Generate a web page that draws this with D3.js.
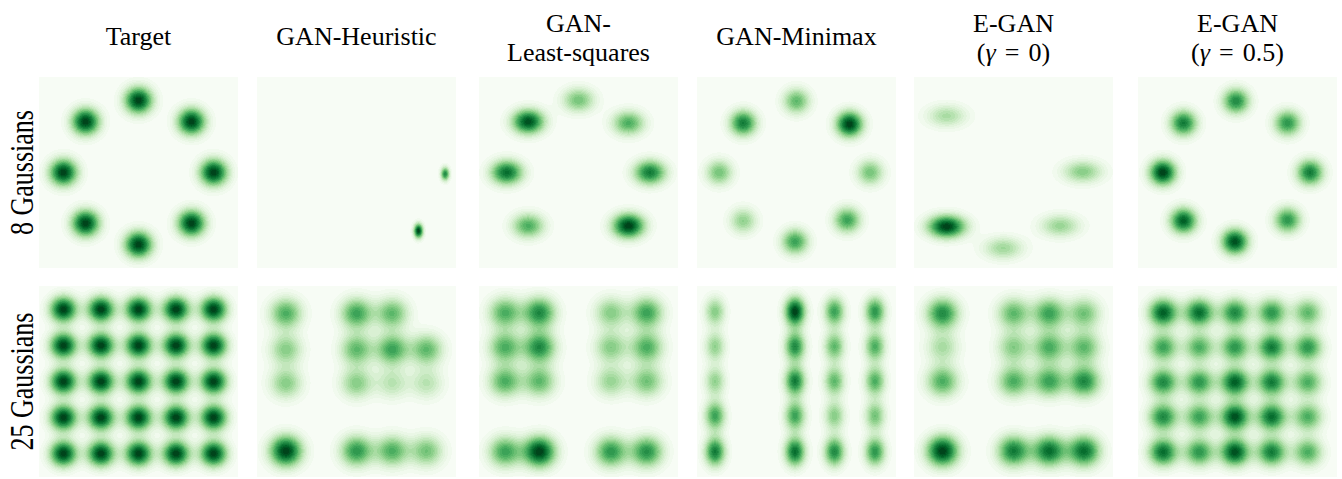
<!DOCTYPE html>
<html>
<head>
<meta charset="utf-8">
<script src="https://cdn.jsdelivr.net/npm/d3@7"></script>
<style>
  body { margin: 0; background: #fff; }
  svg { display: block; }
</style>
</head>
<body>
<svg id="chart" width="1342" height="479"></svg>
<script>
// Column titles (one entry per line) and row labels
const methods = [
  ["Target"],
  ["GAN-Heuristic"],
  ["GAN-", "Least-squares"],
  ["GAN-Minimax"],
  ["E-GAN", "(γ = 0)"],
  ["E-GAN", "(γ = 0.5)"]
];
const datasets = ["8 Gaussians", "25 Gaussians"];

// ---- 8 Gaussians: modes as [x, y, peak density, spread x, spread y]
const ring8Target = [
  [0, 2, 1, .26, .26], [1.41, 1.41, 1, .26, .26], [2, 0, 1, .26, .26], [1.41, -1.41, 1, .26, .26],
  [0, -2, 1, .26, .26], [-1.41, -1.41, 1, .26, .26], [-2, 0, 1, .26, .26], [-1.41, 1.41, 1, .26, .26]
];
const ring8Heuristic = [
  [2.36, -0.04, 0.75, .08, .13],
  [1.65, -1.62, 1.0, .085, .14]
];
const ring8LeastSquares = [
  [0, 2.01, 0.5, .3, .24], [-1.34, 1.41, 0.95, .3, .24], [1.33, 1.37, 0.6, .3, .24],
  [-1.91, 0, 0.85, .3, .24], [1.9, 0, 0.8, .3, .24],
  [-1.34, -1.48, 0.6, .3, .24], [1.33, -1.48, 1.0, .3, .24]
];
const ring8Minimax = [
  [0, 1.98, 0.55, .25, .25], [-1.42, 1.37, 0.8, .25, .25], [1.41, 1.34, 1.0, .25, .25],
  [-2.06, 0, 0.5, .25, .25], [1.96, 0, 0.5, .25, .25],
  [-1.42, -1.34, 0.42, .25, .25], [1.35, -1.32, 0.65, .25, .25], [-0.04, -1.92, 0.65, .25, .25]
];
const ring8EganG0 = [
  [-1.78, 1.57, 0.35, .37, .22], [1.84, 0.02, 0.45, .37, .22],
  [-1.78, -1.5, 1.0, .35, .22], [-0.27, -2.1, 0.38, .37, .22], [1.24, -1.48, 0.4, .37, .22]
];
const ring8EganG05 = [
  [-0.04, 1.98, 0.75, .25, .25], [-1.44, 1.37, 0.8, .25, .25], [1.33, 1.37, 0.7, .25, .25],
  [-1.99, 0, 1.0, .25, .25], [1.93, 0, 0.8, .25, .25],
  [-1.44, -1.34, 0.9, .25, .25], [1.33, -1.32, 0.7, .25, .25], [-0.07, -1.92, 0.95, .25, .25]
];

// ---- 25 Gaussians: column centres, row centres (top to bottom), peak density per cell
const gridTargetX = [-2, -1, 0, 1, 2];
const gridTargetY = [2, 1, 0, -1, -2];
const gridTargetW = [
  [1, 1, 1, 1, 1], [1, 1, 1, 1, 1], [1, 1, 1, 1, 1], [1, 1, 1, 1, 1], [1, 1, 1, 1, 1]
];
const gridHeuristicX = [-1.88, -0.94, 0, 0.95, 1.87];
const gridHeuristicY = [1.89, 0.89, -0.05, -1, -1.93];
const gridHeuristicW = [
  [0.6, 0, 0.65, 0.55, 0],
  [0.45, 0, 0.55, 0.65, 0.55],
  [0.45, 0, 0.45, 0.3, 0.3],
  [0, 0, 0, 0, 0],
  [1.0, 0, 0.7, 0.6, 0.5]
];
const gridLeastSquaresX = [-1.96, -1.04, 0, 0.86, 1.82];
const gridLeastSquaresY = [1.91, 0.95, 0, -1, -1.95];
const gridLeastSquaresW = [
  [0.6, 0.75, 0, 0.45, 0.65],
  [0.6, 0.75, 0, 0.45, 0.6],
  [0.6, 0.55, 0, 0.4, 0.5],
  [0, 0, 0, 0, 0],
  [0.65, 1.0, 0, 0.7, 0.72]
];
const gridMinimaxX = [-2.17, -1, -0.04, 1.01, 2.09];
const gridMinimaxY = [1.94, 0.97, 0.01, -0.95, -1.95];
const gridMinimaxW = [
  [0.45, 0, 1.0, 0.65, 0.7],
  [0.42, 0, 0.75, 0.55, 0.6],
  [0.42, 0, 0.8, 0.55, 0.6],
  [0.65, 0, 0.65, 0.45, 0.5],
  [0.8, 0, 0.85, 0.75, 0.7]
];
const gridEganG0X = [-1.89, -1, 0, 0.95, 1.88];
const gridEganG0Y = [1.89, 0.95, 0, -1, -1.93];
const gridEganG0W = [
  [0.75, 0, 0.55, 0.65, 0.5],
  [0.35, 0, 0.45, 0.6, 0.55],
  [0.6, 0, 0.6, 0.65, 0.75],
  [0, 0, 0, 0, 0],
  [1.0, 0, 0.8, 0.85, 0.85]
];
const gridEganG05X = [-1.98, -1.02, -0.07, 0.91, 1.87];
const gridEganG05Y = [1.91, 0.95, -0.02, -0.98, -1.96];
const gridEganG05W = [
  [0.9, 0.85, 0.75, 0.7, 0.55],
  [0.65, 0.6, 0.7, 0.8, 0.7],
  [0.75, 0.7, 0.9, 0.8, 0.6],
  [0.75, 0.65, 0.95, 0.85, 0.6],
  [0.85, 0.7, 0.95, 0.8, 0.6]
];
// per-panel spread of the grid modes [sx, sy]
const gridSpread = [[.25, .25], [.3, .3], [.3, .3], [.19, .28], [.3, .3], [.27, .27]];

function gridModes(xs, ys, w, spread) {
  const out = [];
  ys.forEach((yv, i) => xs.forEach((xv, j) => {
    if (w[i][j] > 0) out.push([xv, yv, w[i][j], spread[0], spread[1]]);
  }));
  return out;
}

const panels = [
  [ring8Target, ring8Heuristic, ring8LeastSquares, ring8Minimax, ring8EganG0, ring8EganG05],
  [
    gridModes(gridTargetX, gridTargetY, gridTargetW, gridSpread[0]),
    gridModes(gridHeuristicX, gridHeuristicY, gridHeuristicW, gridSpread[1]),
    gridModes(gridLeastSquaresX, gridLeastSquaresY, gridLeastSquaresW, gridSpread[2]),
    gridModes(gridMinimaxX, gridMinimaxY, gridMinimaxW, gridSpread[3]),
    gridModes(gridEganG0X, gridEganG0Y, gridEganG0W, gridSpread[4]),
    gridModes(gridEganG05X, gridEganG05Y, gridEganG05W, gridSpread[5])
  ]
];

// ---- layout
const panelLeft = [39, 257, 479, 697, 914, 1138];
const rowTop = [77, 286];
const PW = 199, PH = 191;
const domain = [-2.65, 2.65];
const levels = 24;   // filled-contour bands

const svg = d3.select("#chart");
const color = d3.scaleSequential(d3.interpolateGreens).domain([0, 1]);
const xScale = d3.scaleLinear().domain(domain).range([0, PW]);
const yScale = d3.scaleLinear().domain(domain).range([PH, 0]);

function densityImage(modes) {
  const canvas = document.createElement("canvas");
  canvas.width = PW; canvas.height = PH;
  const ctx = canvas.getContext("2d");
  const img = ctx.createImageData(PW, PH);
  const lut = d3.range(levels + 1).map(k => d3.rgb(color(Math.min(1, k / (levels - 1)))));
  for (let py = 0; py < PH; py++) {
    const vy = yScale.invert(py + 0.5);
    for (let px = 0; px < PW; px++) {
      const vx = xScale.invert(px + 0.5);
      let d = 0;
      for (const [mx, my, w, sx, sy] of modes) {
        const u = (vx - mx) / sx, v = (vy - my) / sy;
        d += w * Math.exp(-0.5 * (u * u + v * v));
      }
      const k = Math.min(levels, Math.floor(Math.min(d, 1) * levels));
      const c = lut[k];
      const i = (py * PW + px) * 4;
      img.data[i] = c.r; img.data[i + 1] = c.g; img.data[i + 2] = c.b; img.data[i + 3] = 255;
    }
  }
  ctx.putImageData(img, 0, 0);
  return canvas.toDataURL();
}

panels.forEach((row, r) => {
  row.forEach((modes, c) => {
    svg.append("image")
      .attr("x", panelLeft[c]).attr("y", rowTop[r])
      .attr("width", PW).attr("height", PH)
      .attr("preserveAspectRatio", "none")
      .attr("href", densityImage(modes));
  });
});

// ---- column titles
const titleFont = "Liberation Serif";
methods.forEach((lines, c) => {
  const cx = panelLeft[c] + PW / 2;
  const baselines = lines.length === 1 ? [45] : [32, 61];
  lines.forEach((line, li) => {
    const t = svg.append("text")
      .attr("x", cx).attr("y", baselines[li])
      .attr("text-anchor", "middle")
      .style("font-family", titleFont)
      .style("font-size", "26px")
      .attr("fill", "#000");
    if (line.includes("γ")) {
      // "(γ = v)" set with math-style spacing around the equals sign
      const inner = line.slice(1, -1);
      const [sym, val] = inner.split("=").map(s => s.trim());
      t.append("tspan").text("(");
      t.append("tspan").style("font-style", "italic").text(sym);
      t.append("tspan").attr("dx", 9).text("=");
      t.append("tspan").attr("dx", 9).text(val);
      t.append("tspan").text(")");
    } else {
      t.text(line);
    }
  });
});

// ---- row labels
datasets.forEach((label, r) => {
  svg.append("text")
    .attr("transform", `translate(33,${rowTop[r] + PH / 2}) rotate(-90) scale(1,1.3)`)
    .attr("text-anchor", "middle")
    .style("font-family", titleFont)
    .style("font-size", "26px")
    .attr("fill", "#000")
    .text(label);
});
</script>
</body>
</html>
